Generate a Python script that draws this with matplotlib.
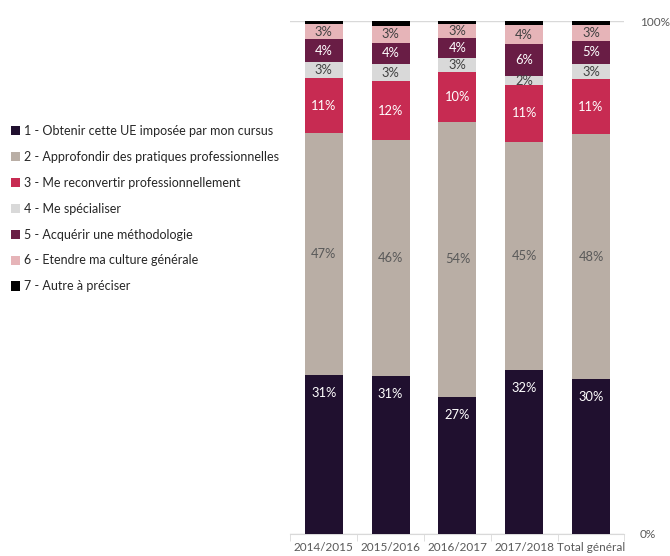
import matplotlib
matplotlib.use("Agg")
import matplotlib.pyplot as plt
from matplotlib.patches import Patch
import numpy as np

categories = ["2014/2015", "2015/2016", "2016/2017", "2017/2018", "Total général"]
series_names = [
    "1 - Obtenir cette UE imposée par mon cursus",
    "2 - Approfondir des pratiques professionnelles",
    "3 - Me reconvertir professionnellement",
    "4 - Me spécialiser",
    "5 - Acquérir une méthodologie",
    "6 - Etendre ma culture générale",
    "7 - Autre à préciser",
]
s1 = [31.0, 30.8, 26.7, 32.0, 30.2]
s2 = [47.2, 46.0, 53.7, 44.5, 47.7]
s3 = [10.6, 11.5, 9.7, 11.0, 10.7]
s4 = [3.3, 3.3, 2.6, 1.8, 3.0]
s5 = [4.3, 4.2, 4.0, 6.2, 4.6]
s6 = [3.0, 3.2, 2.8, 3.7, 3.1]
s7 = [0.6, 1.0, 0.6, 0.8, 0.7]
labels1 = ["31%", "31%", "27%", "32%", "30%"]
labels2 = ["47%", "46%", "54%", "45%", "48%"]
labels3 = ["11%", "12%", "10%", "11%", "11%"]
labels4 = ["3%", "3%", "3%", "2%", "3%"]
labels5 = ["4%", "4%", "4%", "6%", "5%"]
labels6 = ["3%", "3%", "3%", "4%", "3%"]

series = [s1, s2, s3, s4, s5, s6, s7]
labels = [labels1, labels2, labels3, labels4, labels5, labels6, None]
colors = ["#20102f", "#b9aea5", "#c72b52", "#d9d9d9", "#691d45", "#e6b4b8", "#000000"]
label_colors = ["white", "#595959", "white", "#404040", "white", "#404040", None]

plt.rcParams["font.family"] = ["Lato", "DejaVu Sans"]

fig = plt.figure(figsize=(6.7, 5.56), dpi=100)
ax = fig.add_axes([0.4335, 0.0396, 0.4985, 0.9226])

x = np.arange(len(categories))
bottom = np.zeros(len(categories))
for i, (vals, col) in enumerate(zip(series, colors)):
    v = np.array(vals) / 100.0
    ax.bar(x, v, bottom=bottom, width=0.57, color=col, zorder=3)
    if labels[i] is not None:
        for j in range(len(categories)):
            if i == 0:
                ax.annotate(labels[i][j], (x[j], bottom[j] + v[j]), xytext=(0, -13),
                            textcoords="offset points", ha="center", va="center",
                            fontsize=9.3, color=label_colors[i], zorder=4)
            else:
                ax.text(x[j], bottom[j] + v[j] / 2, labels[i][j], ha="center", va="center",
                        fontsize=9.3, color=label_colors[i], zorder=4)
    bottom = bottom + v

ax.set_xlim(-0.5, len(categories) - 0.5)
ax.set_ylim(0, 1)
ax.set_yticks([0, 1])
ax.set_yticklabels(["0%", "100%"])
ax.yaxis.tick_right()
ax.tick_params(axis="y", length=0, pad=11, labelsize=8.5, labelcolor="#595959")
ax.grid(axis="y", color="#d9d9d9", linewidth=1, zorder=0)
ax.set_xticks(x)
ax.set_xticklabels(categories)
ax.set_xticks(np.arange(-0.5, len(categories)), minor=True)
ax.tick_params(axis="x", which="major", length=0, pad=6, labelsize=8.5, labelcolor="#595959")
ax.tick_params(axis="x", which="minor", length=5, color="#d9d9d9")
for side in ["top", "left", "right"]:
    ax.spines[side].set_visible(False)
ax.spines["bottom"].set_color("#d9d9d9")

handles = [Patch(facecolor=c, edgecolor="none") for c in colors]
fig.legend(handles, series_names, loc="upper left", bbox_to_anchor=(0.016, 0.775),
           frameon=False, fontsize=9, handlelength=0.75, handleheight=0.75,
           handletextpad=0.35, labelspacing=1.11, borderpad=0, borderaxespad=0,
           labelcolor="#262626")

fig.savefig("out.png", dpi=100)
